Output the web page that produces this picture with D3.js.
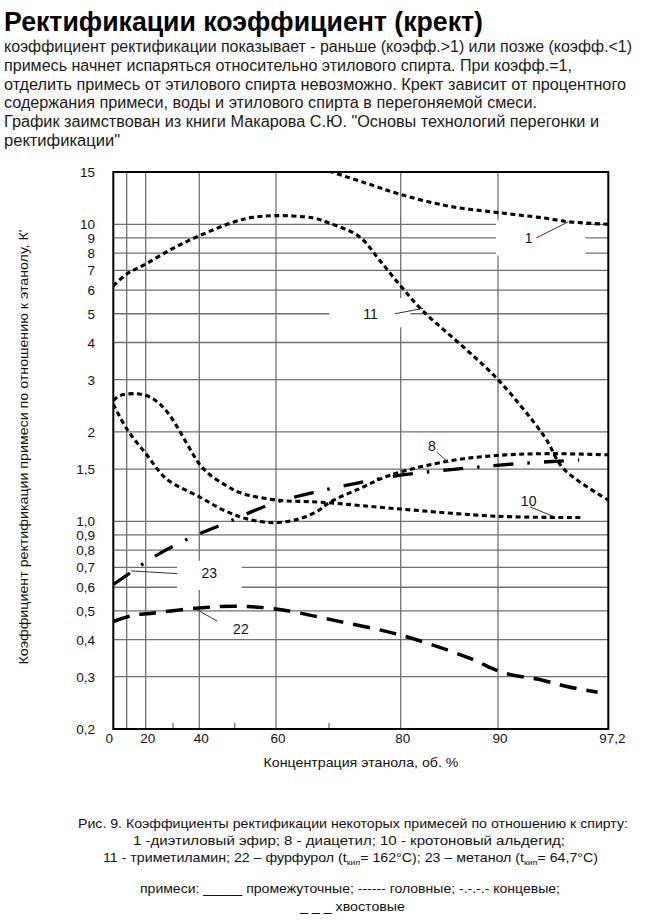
<!DOCTYPE html>
<html><head><meta charset="utf-8">
<script src="https://cdn.jsdelivr.net/npm/d3@7/dist/d3.min.js"></script>
<style>body{margin:0;background:#fff}svg{display:block}</style>
</head><body>
<svg id="c" width="650" height="920"></svg>
<script>
// ---------- DATA ----------
const xTickValues = [0, 20, 40, 60, 80, 90, 97.2];
const xTickLabels = ["0", "20", "40", "60", "80", "90", "97,2"];
const xGridValues = [10, 20, 40, 60, 80, 90];
const xMinorTicks = [30, 50, 70];
const yTickValues = [0.2, 0.3, 0.4, 0.5, 0.6, 0.7, 0.8, 0.9, 1, 1.5, 2, 3, 4, 5, 6, 7, 8, 9, 10, 15];
const yTickLabels = ["0,2","0,3","0,4","0,5","0,6","0,7","0,8","0,9","1,0","1,5","2","3","4","5","6","7","8","9","10","15"];
const yGridValues = [0.3, 0.4, 0.5, 0.6, 0.7, 0.8, 0.9, 1, 1.5, 2, 3, 4, 5, 6, 7, 8, 9, 10];

// 1 - диэтиловый эфир (головная)
const curve1 = [[70,15.1],[75,13.8],[80,12.6],[85,11.5],[90,10.95],[93,10.5],[94.6,10.2],[97.2,10.0]];
// 11 - триметиламин (головная)
const curve11 = [[0,6.2],[10,6.8],[20,7.35],[30,8.3],[40,9.15],[50,10.2],[54.3,10.55],[60,10.7],[67,10.5],[70,10.1],[74.2,9.1],[77,7.6],[80,6.2],[82.3,5.1],[86.5,3.85],[90,3.0],[93,1.94],[94.3,1.5],[97.2,1.18]];
// 10 - кротоновый альдегид (головная)
const curve10 = [[0,2.55],[5,2.65],[15,2.69],[21.6,2.62],[25.2,2.48],[28.9,2.27],[32.7,2.0],[36.5,1.75],[40,1.56],[43,1.435],[47.6,1.32],[51.2,1.25],[60,1.18],[68.5,1.16],[80,1.10],[90,1.04],[95.5,1.03]];
// 8 - диацетил (головная)
const curve8 = [[0,2.48],[10,2.05],[20.5,1.67],[27.6,1.39],[40,1.21],[46.9,1.09],[52.9,1.02],[59.3,0.99],[64.4,1.02],[68.1,1.09],[70.1,1.16],[74.3,1.29],[78.5,1.43],[85.1,1.60],[90.2,1.67],[93.3,1.69],[97.2,1.675]];
// 23 - метанол (концевая)
const curve23 = [[0,0.613],[12.6,0.676],[18.7,0.72],[25.2,0.78],[36.5,0.88],[46.8,0.98],[59.3,1.15],[67,1.25],[74.3,1.35],[80,1.43],[85.7,1.50],[91,1.56],[95.3,1.61]];
// 22 - фурфурол (хвостовая)
const curve22 = [[0,0.46],[13.4,0.483],[21.7,0.49],[38.8,0.51],[49.7,0.518],[60,0.507],[70.6,0.465],[80,0.414],[87,0.347],[90.3,0.31],[92.9,0.292],[94.5,0.278],[96.5,0.266]];

// curve labels: text, label position, leader from -> to (data units)
const curveLabels = [
  {t:"1",  x:92.0, y:8.97,  x1:92.5, y1:9.0,   x2:94.6, y2:10.2},
  {t:"11", x:75.8, y:5.0,   x1:79.2, y1:5.0,   x2:82.3, y2:5.21},
  {t:"8",  x:83.2, y:1.8,   x1:83.7, y1:1.71,  x2:84.9, y2:1.58},
  {t:"10", x:92.0, y:1.167, x1:92.1, y1:1.118, x2:93.6, y2:1.04},
  {t:"23", x:42.8, y:0.671, x1:31.6, y1:0.667, x2:12.4, y2:0.681},
  {t:"22", x:51.5, y:0.434, x1:45.1, y1:0.461, x2:39.0, y2:0.505}
];
// gaps in the grid behind labels (data units)
const gridGaps = [
  {x0:89.8, x1:95.7, y0:7.85, y1:10.35},
  {x0:70.05, x1:81.0, y0:4.5, y1:5.65},
  {x0:31.5, x1:51.7, y0:0.588, y1:0.737}
];

// ---------- TEXT ----------
const titleText = "Ректификации коэффициент (крект)";
const bodyLines = [
  "коэффициент ректификации показывает - раньше (коэфф.>1) или позже (коэфф.<1)",
  "примесь начнет испаряться относительно этилового спирта. При коэфф.=1,",
  "отделить примесь от этилового спирта невозможно. Крект зависит от процентного",
  "содержания примеси, воды и этилового спирта в перегоняемой смеси.",
  "График заимствован из книги Макарова С.Ю. \"Основы технологий перегонки и",
  "ректификации\""
];
const bodyWidths = [628, 568, 622, 533, 595, 116];

// ---------- DRAW ----------
const svg = d3.select("#c");
const FONT = "'Liberation Sans', Arial, Helvetica, sans-serif";

const x = d3.scaleLinear()
  .domain([0,10,20,30,40,50,60,70,80,90,97.2])
  .range([113.3,126.7,145.7,173,199.3,234.7,276,329,400.7,498,608.3]);
const y = d3.scaleLog().domain([0.2, 15]).range([729, 172]);

const L = x(0), R = x(97.2), T = y(15), B = y(0.2);

// title & description
svg.append("text").attr("x", 4).attr("y", 31)
  .attr("font-family", FONT).attr("font-weight", "bold").attr("font-size", 27)
  .attr("textLength", 479).attr("lengthAdjust", "spacingAndGlyphs")
  .attr("fill", "#000").text(titleText);

svg.selectAll("text.body").data(bodyLines).join("text")
  .attr("class", "body")
  .attr("x", 4).attr("y", (d, i) => 52 + i * 18.8)
  .attr("font-family", FONT).attr("font-size", 16)
  .attr("textLength", (d, i) => bodyWidths[i]).attr("lengthAdjust", "spacingAndGlyphs")
  .attr("fill", "#1a1a1a").text(d => d);

// grid
const grid = svg.append("g").attr("stroke", "#707070").attr("stroke-width", 1.3);
grid.selectAll("line.h").data(yGridValues).join("line")
  .attr("x1", L).attr("x2", R).attr("y1", d => y(d)).attr("y2", d => y(d));
grid.selectAll("line.v").data(xGridValues).join("line")
  .attr("x1", d => x(d)).attr("x2", d => x(d)).attr("y1", T).attr("y2", B);
grid.selectAll("line.m").data(xMinorTicks).join("line")
  .attr("x1", d => x(d)).attr("x2", d => x(d)).attr("y1", B - 6).attr("y2", B);

// gaps for labels
svg.append("g").selectAll("rect").data(gridGaps).join("rect")
  .attr("x", d => x(d.x0)).attr("width", d => x(d.x1) - x(d.x0))
  .attr("y", d => y(d.y1)).attr("height", d => y(d.y0) - y(d.y1))
  .attr("fill", "#fff");

// frame
svg.append("rect").attr("x", L).attr("y", T).attr("width", R - L).attr("height", B - T)
  .attr("fill", "none").attr("stroke", "#000").attr("stroke-width", 2);

// clip
svg.append("clipPath").attr("id", "clip").append("rect")
  .attr("x", L).attr("y", T).attr("width", R - L).attr("height", B - T);

const line = d3.line().x(d => x(d[0])).y(d => y(d[1])).curve(d3.curveCatmullRom.alpha(0.5));
const curves = svg.append("g").attr("clip-path", "url(#clip)")
  .attr("fill", "none").attr("stroke", "#000");
const headStyle = {w: 3.1, dash: "5,3.5"};
[curve1, curve11, curve10, curve8].forEach(c => {
  curves.append("path").attr("d", line(c))
    .attr("stroke-width", headStyle.w).attr("stroke-dasharray", headStyle.dash);
});
curves.append("path").attr("d", line(curve23))
  .attr("stroke-width", 3.3).attr("stroke-dasharray", "20,14,2.5,14");
curves.append("path").attr("d", line(curve22))
  .attr("stroke-width", 3.5).attr("stroke-dasharray", "17,10");

// curve labels & leaders
const lab = svg.append("g");
lab.selectAll("line").data(curveLabels).join("line")
  .attr("x1", d => x(d.x1)).attr("y1", d => y(d.y1))
  .attr("x2", d => x(d.x2)).attr("y2", d => y(d.y2))
  .attr("stroke", "#333").attr("stroke-width", 1);
lab.selectAll("text").data(curveLabels).join("text")
  .attr("x", d => x(d.x)).attr("y", d => y(d.y) + 5)
  .attr("text-anchor", "middle").attr("font-family", FONT).attr("font-size", 14)
  .attr("fill", "#111").text(d => d.t);

// y tick labels
svg.append("g").selectAll("text").data(yTickValues).join("text")
  .attr("x", 95).attr("y", d => y(d) + 5)
  .attr("text-anchor", "end").attr("font-family", FONT).attr("font-size", 13.5)
  .attr("fill", "#111").text((d, i) => yTickLabels[i]);

// x tick labels
svg.append("g").selectAll("text").data(xTickValues).join("text")
  .attr("x", (d, i) => x(d) + (i === 0 ? -4 : i === xTickValues.length - 1 ? 4 : 2))
  .attr("y", 743)
  .attr("text-anchor", "middle").attr("font-family", FONT).attr("font-size", 13.5)
  .attr("fill", "#111").text((d, i) => xTickLabels[i]);

// axis titles
svg.append("text").attr("x", 361).attr("y", 767).attr("text-anchor", "middle")
  .attr("font-family", FONT).attr("font-size", 13.5)
  .attr("textLength", 195).attr("lengthAdjust", "spacingAndGlyphs")
  .attr("fill", "#111").text("Концентрация этанола, об. %");

svg.append("text").attr("transform", "translate(28,447) rotate(-90)")
  .attr("text-anchor", "middle").attr("font-family", FONT).attr("font-size", 13.5)
  .attr("textLength", 435).attr("lengthAdjust", "spacingAndGlyphs")
  .attr("fill", "#111").text("Коэффициент ректификации примеси по отношению к этанолу, К'");

// caption
const cap = svg.append("g").attr("font-family", FONT).attr("font-size", 13).attr("fill", "#111");
cap.append("text").attr("x", 78).attr("y", 828).attr("textLength", 550).attr("lengthAdjust", "spacingAndGlyphs")
  .text("Рис. 9. Коэффициенты ректификации некоторых примесей по отношению к спирту:");
cap.append("text").attr("x", 133).attr("y", 845).attr("textLength", 432).attr("lengthAdjust", "spacingAndGlyphs")
  .text("1 -диэтиловый эфир; 8 - диацетил; 10 - кротоновый альдегид;");
const l3 = cap.append("text").attr("x", 103).attr("y", 862).attr("textLength", 495).attr("lengthAdjust", "spacingAndGlyphs");
l3.append("tspan").text("11 - триметиламин; 22 – фурфурол (t");
l3.append("tspan").attr("font-size", 8).attr("dy", 3).text("кип");
l3.append("tspan").attr("dy", -3).text("= 162°C); 23 – метанол (t");
l3.append("tspan").attr("font-size", 8).attr("dy", 3).text("кип");
l3.append("tspan").attr("dy", -3).text("= 64,7°C)");
cap.append("text").attr("x", 140).attr("y", 893).attr("textLength", 420).attr("lengthAdjust", "spacingAndGlyphs")
  .text("примеси: _____ промежуточные; ------ головные; -.-.-.- концевые;");
cap.append("text").attr("x", 300).attr("y", 911).attr("textLength", 105).attr("lengthAdjust", "spacingAndGlyphs")
  .text("_ _ _ хвостовые");
</script>
</body></html>
